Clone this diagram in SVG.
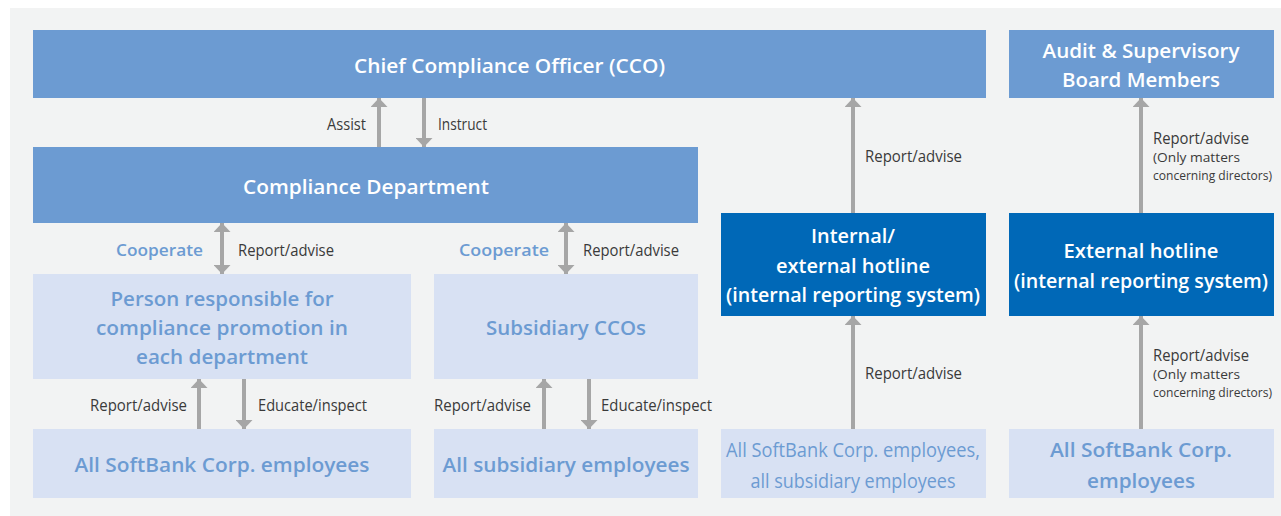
<svg xmlns="http://www.w3.org/2000/svg" width="1281" height="516" viewBox="0 0 1281 516">
<style>
.mid{fill:#6c9bd2}
.dark{fill:#0068b7}
.light{fill:#d8e1f3}
.t{font-family:"Open Sans","Noto Sans","Liberation Sans",sans-serif;font-weight:600;font-size:19.5px;text-anchor:middle}
.w{fill:#ffffff}
.b{fill:#6c9bd2}
.lbl{font-family:"Open Sans","Noto Sans","Liberation Sans",sans-serif;font-size:16px;fill:#3a3a3a}
.sm{font-family:"Open Sans","Noto Sans","Liberation Sans",sans-serif;font-size:13.5px;fill:#3a3a3a}
.coop{font-family:"Open Sans","Noto Sans","Liberation Sans",sans-serif;font-weight:600;font-size:17px;fill:#6c9bd2}
.arr{stroke:#a6a6a6;stroke-width:4;fill:none}
</style>
<defs>
<marker id="ah" viewBox="0 0 9 17" refX="9" refY="8.5" markerWidth="9" markerHeight="17" markerUnits="userSpaceOnUse" orient="auto-start-reverse">
<path d="M0,0 L9,8.5 L0,17 z" fill="#a6a6a6"/>
</marker>
</defs>
<rect x="10" y="8" width="1271" height="508" fill="#f2f3f3"/>

<g id="connectors">
<line class="arr" x1="379" y1="147" x2="379" y2="98" marker-end="url(#ah)"/>
<line class="arr" x1="424" y1="98" x2="424" y2="147" marker-end="url(#ah)"/>
<line class="arr" x1="222" y1="223" x2="222" y2="274" marker-start="url(#ah)" marker-end="url(#ah)"/>
<line class="arr" x1="566" y1="223" x2="566" y2="274" marker-start="url(#ah)" marker-end="url(#ah)"/>
<line class="arr" x1="199" y1="429" x2="199" y2="379" marker-end="url(#ah)"/>
<line class="arr" x1="244" y1="379" x2="244" y2="429" marker-end="url(#ah)"/>
<line class="arr" x1="544" y1="429" x2="544" y2="379" marker-end="url(#ah)"/>
<line class="arr" x1="589" y1="379" x2="589" y2="429" marker-end="url(#ah)"/>
<line class="arr" x1="853" y1="213" x2="853" y2="98" marker-end="url(#ah)"/>
<line class="arr" x1="853" y1="429" x2="853" y2="316" marker-end="url(#ah)"/>
<line class="arr" x1="1141" y1="213" x2="1141" y2="98" marker-end="url(#ah)"/>
<line class="arr" x1="1141" y1="429" x2="1141" y2="316" marker-end="url(#ah)"/>

<text class="lbl" x="327" y="130" textLength="39" lengthAdjust="spacingAndGlyphs">Assist</text>
<text class="lbl" x="438" y="130" textLength="49" lengthAdjust="spacingAndGlyphs">Instruct</text>
<text class="coop" x="116" y="256" textLength="87" lengthAdjust="spacingAndGlyphs">Cooperate</text>
<text class="lbl" x="238" y="256" textLength="96" lengthAdjust="spacingAndGlyphs">Report/advise</text>
<text class="coop" x="459" y="256" textLength="90" lengthAdjust="spacingAndGlyphs">Cooperate</text>
<text class="lbl" x="583" y="256" textLength="96" lengthAdjust="spacingAndGlyphs">Report/advise</text>
<text class="lbl" x="90" y="411" textLength="97" lengthAdjust="spacingAndGlyphs">Report/advise</text>
<text class="lbl" x="258" y="411" textLength="109" lengthAdjust="spacingAndGlyphs">Educate/inspect</text>
<text class="lbl" x="434" y="411" textLength="97" lengthAdjust="spacingAndGlyphs">Report/advise</text>
<text class="lbl" x="601" y="411" textLength="111" lengthAdjust="spacingAndGlyphs">Educate/inspect</text>
<text class="lbl" x="865" y="162" textLength="97" lengthAdjust="spacingAndGlyphs">Report/advise</text>
<text class="lbl" x="865" y="379" textLength="97" lengthAdjust="spacingAndGlyphs">Report/advise</text>
<text class="lbl" x="1153" y="144" textLength="96" lengthAdjust="spacingAndGlyphs">Report/advise</text>
<text class="sm" x="1153" y="162" textLength="87" lengthAdjust="spacingAndGlyphs">(Only matters</text>
<text class="sm" transform="translate(1153 180) scale(0.888 1)" x="0" y="0" textLength="134" lengthAdjust="spacingAndGlyphs">concerning directors)</text>
<text class="lbl" x="1153" y="361" textLength="96" lengthAdjust="spacingAndGlyphs">Report/advise</text>
<text class="sm" x="1153" y="379" textLength="87" lengthAdjust="spacingAndGlyphs">(Only matters</text>
<text class="sm" transform="translate(1153 397) scale(0.888 1)" x="0" y="0" textLength="134" lengthAdjust="spacingAndGlyphs">concerning directors)</text>
</g>

<g id="cco">
<rect class="mid" x="33" y="30" width="953" height="68"/>
<text class="t w" x="509.5" y="73" textLength="311" lengthAdjust="spacingAndGlyphs">Chief Compliance Officer (CCO)</text>
</g>
<g id="audit">
<rect class="mid" x="1009" y="30" width="265" height="68"/>
<text class="t w" x="1141" y="58" textLength="197" lengthAdjust="spacingAndGlyphs">Audit &amp; Supervisory</text>
<text class="t w" x="1141" y="87" textLength="158" lengthAdjust="spacingAndGlyphs">Board Members</text>
</g>
<g id="compliance-dept">
<rect class="mid" x="33" y="147" width="665" height="76"/>
<text class="t w" x="366" y="194" textLength="246" lengthAdjust="spacingAndGlyphs">Compliance Department</text>
</g>
<g id="internal-hotline">
<rect class="dark" x="721" y="213" width="265" height="103"/>
<text class="t w" x="853" y="243" textLength="84" lengthAdjust="spacingAndGlyphs">Internal/</text>
<text class="t w" x="853" y="272.5" textLength="154" lengthAdjust="spacingAndGlyphs">external hotline</text>
<text class="t w" x="853" y="302" textLength="254" lengthAdjust="spacingAndGlyphs">(internal reporting system)</text>
</g>
<g id="external-hotline">
<rect class="dark" x="1009" y="213" width="265" height="103"/>
<text class="t w" x="1141" y="258" textLength="155" lengthAdjust="spacingAndGlyphs">External hotline</text>
<text class="t w" x="1141" y="287.5" textLength="254" lengthAdjust="spacingAndGlyphs">(internal reporting system)</text>
</g>
<g id="dept-promoter">
<rect class="light" x="33" y="274" width="378" height="105"/>
<text class="t b" x="222" y="306" textLength="223" lengthAdjust="spacingAndGlyphs">Person responsible for</text>
<text class="t b" x="222" y="335" textLength="252" lengthAdjust="spacingAndGlyphs">compliance promotion in</text>
<text class="t b" x="222" y="364" textLength="172" lengthAdjust="spacingAndGlyphs">each department</text>
</g>
<g id="subsidiary-ccos">
<rect class="light" x="434" y="274" width="264" height="105"/>
<text class="t b" x="566" y="335" textLength="160" lengthAdjust="spacingAndGlyphs">Subsidiary CCOs</text>
</g>
<g id="all-softbank-left">
<rect class="light" x="33" y="429" width="378" height="69"/>
<text class="t b" x="222" y="472" textLength="295" lengthAdjust="spacingAndGlyphs">All SoftBank Corp. employees</text>
</g>
<g id="all-subsidiary">
<rect class="light" x="434" y="429" width="264" height="69"/>
<text class="t b" x="566" y="472" textLength="247" lengthAdjust="spacingAndGlyphs">All subsidiary employees</text>
</g>
<g id="all-employees-mid">
<rect class="light" x="721" y="429" width="265" height="69"/>
<text class="t b" x="853" y="457" style="font-weight:500" textLength="254" lengthAdjust="spacingAndGlyphs">All SoftBank Corp. employees,</text>
<text class="t b" x="853" y="488" style="font-weight:500" textLength="205" lengthAdjust="spacingAndGlyphs">all subsidiary employees</text>
</g>
<g id="all-softbank-right">
<rect class="light" x="1009" y="429" width="265" height="69"/>
<text class="t b" x="1141" y="457" textLength="182" lengthAdjust="spacingAndGlyphs">All SoftBank Corp.</text>
<text class="t b" x="1141" y="488" textLength="108" lengthAdjust="spacingAndGlyphs">employees</text>
</g>
</svg>
